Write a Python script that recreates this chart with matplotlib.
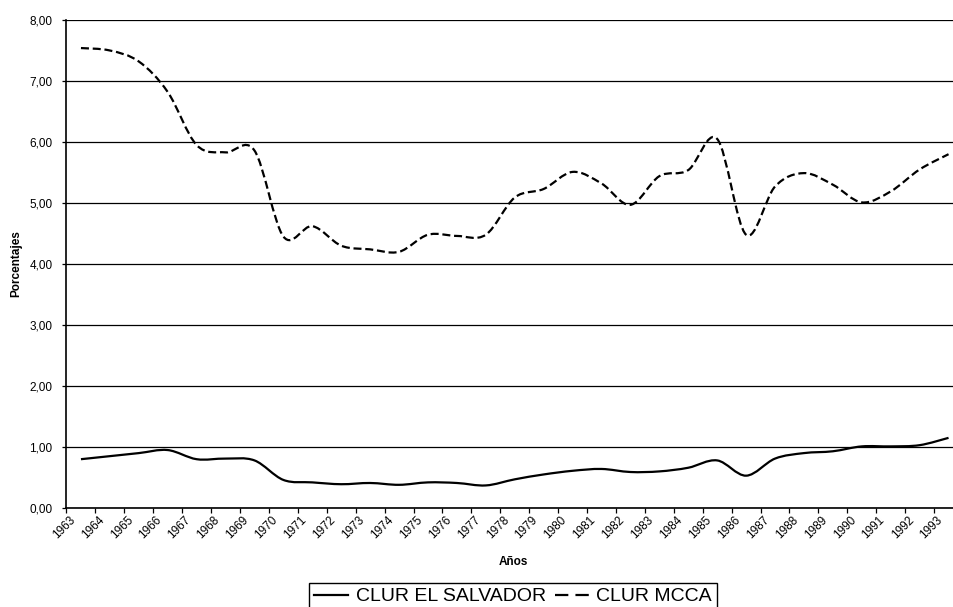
import numpy as np
import matplotlib
matplotlib.use("Agg")
import matplotlib.pyplot as plt
from matplotlib.path import Path
from matplotlib.patches import PathPatch
from matplotlib.lines import Line2D
from matplotlib.ticker import FuncFormatter, FixedLocator
from matplotlib.transforms import ScaledTranslation

plt.rcParams["font.family"] = ["Liberation Sans", "DejaVu Sans"]

# Annual series (percent)
years = list(range(1963, 1994))
clur_el_salvador = [0.80, 0.85, 0.90, 0.95, 0.80, 0.81, 0.78, 0.46, 0.42, 0.39,
                    0.41, 0.38, 0.42, 0.41, 0.37, 0.47, 0.55, 0.61, 0.64, 0.59,
                    0.60, 0.66, 0.78, 0.53, 0.81, 0.90, 0.93, 1.01, 1.01, 1.03,
                    1.15]
clur_mcca = [7.54, 7.50, 7.32, 6.82, 5.95, 5.83, 5.86, 4.45, 4.62, 4.30,
             4.24, 4.20, 4.48, 4.46, 4.48, 5.09, 5.23, 5.51, 5.32, 4.97,
             5.44, 5.54, 6.05, 4.48, 5.27, 5.49, 5.30, 5.01, 5.19, 5.55,
             5.80]
series_names = ["CLUR EL SALVADOR", "CLUR MCCA"]


def smooth_path(x, y):
    """Smoothed curve through every point (cubic Bezier, Catmull-Rom style)."""
    pts = np.column_stack([x, y]).astype(float)
    padded = np.vstack([pts[0], pts, pts[-1]])
    verts = [pts[0]]
    codes = [Path.MOVETO]
    for i in range(len(pts) - 1):
        p0, p1, p2, p3 = padded[i], padded[i + 1], padded[i + 2], padded[i + 3]
        verts += [p1 + (p2 - p0) / 6.0, p2 - (p3 - p1) / 6.0, p2]
        codes += [Path.CURVE4] * 3
    return Path(verts, codes)


W, H = 954, 607
fig = plt.figure(figsize=(W / 100, H / 100), dpi=100)
left, right, top, bottom = 66.5, 963.0, 20.0, 508.0
ax = fig.add_axes([left / W, 1 - bottom / H, (right - left) / W, (bottom - top) / H])

# categories sit between tick marks
xpos = np.arange(len(years)) + 0.5
ax.set_xlim(0, len(years))
ax.set_ylim(0, 8)

solid_style = dict(color="black", lw=1.6)
dash_style = dict(color="black", lw=1.6, linestyle=(0, (3.6, 1.7)))

ax.add_patch(PathPatch(smooth_path(xpos, clur_el_salvador), fill=False,
                       capstyle="butt", joinstyle="round", **solid_style))
ax.add_patch(PathPatch(smooth_path(xpos, clur_mcca), fill=False,
                       capstyle="butt", joinstyle="round", **dash_style))

# y axis
ax.yaxis.set_major_locator(FixedLocator(np.arange(0, 9, 1)))
ax.yaxis.set_major_formatter(FuncFormatter(lambda v, p: f"{v:.2f}".replace(".", ",")))
ax.grid(axis="y", color="black", lw=0.9)
ax.set_axisbelow(True)

# x axis
ax.xaxis.set_major_locator(FixedLocator(np.arange(len(years))))
ax.set_xticklabels([str(y) for y in years])

ax.tick_params(axis="y", direction="out", length=2.6, width=0.9, pad=7.5,
               labelsize=8.5, colors="black")
ax.tick_params(axis="x", direction="out", length=3.6, width=0.9, pad=0.5,
               labelsize=8.5, colors="black")
shift = ScaledTranslation(2.5 / 100, 0, fig.dpi_scale_trans)
for lab in ax.get_xticklabels():
    lab.set_rotation(45)
    lab.set_rotation_mode("anchor")
    lab.set_ha("right")
    lab.set_va("top")
    lab.set_transform(lab.get_transform() + shift)

for side in ("top", "right"):
    ax.spines[side].set_visible(False)
for side in ("left", "bottom"):
    ax.spines[side].set_color("black")
    ax.spines[side].set_linewidth(1.2)

ax.set_xlabel("Años", fontsize=8.5, fontweight="bold")
ax.xaxis.set_label_coords((513 - left) / (right - left), -(556 - bottom) / (bottom - top))
ax.set_ylabel("Porcentajes", fontsize=8.5, fontweight="bold")
ax.yaxis.set_label_coords((22 - left) / (right - left), 0.5)

handles = [Line2D([], [], **solid_style),
           Line2D([], [], color="black", lw=1.6, linestyle=(0, (6.0, 3.2)))]
leg = fig.legend(handles, series_names, loc="upper center",
                 bbox_to_anchor=(513 / W, 1 - 583 / H), bbox_transform=fig.transFigure,
                 ncol=2, fontsize=14, frameon=True, fancybox=False, framealpha=1,
                 edgecolor="black", handlelength=1.75, handletextpad=0.4,
                 columnspacing=0.45, borderpad=0.25, borderaxespad=0)
leg.get_frame().set_linewidth(1.0)

fig.savefig("out.png", dpi=100)
